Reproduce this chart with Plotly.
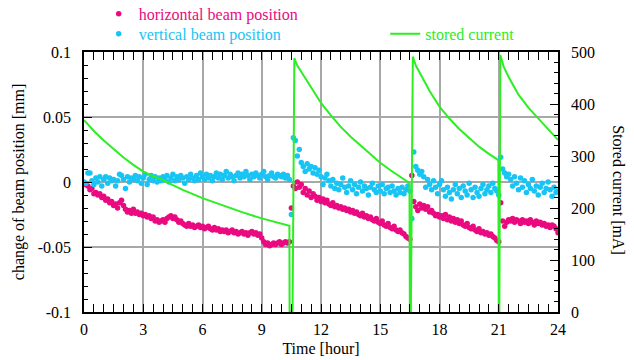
import plotly.graph_objects as go

# ---------------- data ----------------
# beam-position sample times [hour], segment by segment (between refills)
time_seg1 = [0.0, 0.1, 0.2, 0.3, 0.4, 0.5, 0.6, 0.7, 0.8, 0.9,
             1.0, 1.1, 1.2, 1.3, 1.4, 1.5, 1.6, 1.7, 1.8, 1.9,
             2.0, 2.1, 2.2, 2.3, 2.4, 2.5, 2.6, 2.7, 2.8, 2.9,
             3.0, 3.1, 3.2, 3.3, 3.4, 3.5, 3.6, 3.7, 3.8, 3.9,
             4.0, 4.1, 4.2, 4.3, 4.4, 4.5, 4.6, 4.7, 4.8, 4.9,
             5.0, 5.1, 5.2, 5.3, 5.4, 5.5, 5.6, 5.7, 5.8, 5.9,
             6.0, 6.1, 6.2, 6.3, 6.4, 6.5, 6.6, 6.7, 6.8, 6.9,
             7.0, 7.1, 7.2, 7.3, 7.4, 7.5, 7.6, 7.7, 7.8, 7.9,
             8.0, 8.1, 8.2, 8.3, 8.4, 8.5, 8.6, 8.7, 8.8, 8.9,
             9.0, 9.1, 9.2, 9.3, 9.4, 9.5, 9.6, 9.7, 9.8, 9.9,
             10.0, 10.1, 10.2, 10.3, 10.4]
time_seg2 = [10.5, 10.6, 10.7, 10.8, 10.9,
             11.0, 11.1, 11.2, 11.3, 11.4, 11.5, 11.6, 11.7, 11.8, 11.9,
             12.0, 12.1, 12.2, 12.3, 12.4, 12.5, 12.6, 12.7, 12.8, 12.9,
             13.0, 13.1, 13.2, 13.3, 13.4, 13.5, 13.6, 13.7, 13.8, 13.9,
             14.0, 14.1, 14.2, 14.3, 14.4, 14.5, 14.6, 14.7, 14.8, 14.9,
             15.0, 15.1, 15.2, 15.3, 15.4, 15.5, 15.6, 15.7, 15.8, 15.9,
             16.0, 16.1, 16.2, 16.3, 16.4, 16.5]
time_seg3 = [16.6, 16.7, 16.8, 16.9,
             17.0, 17.1, 17.2, 17.3, 17.4, 17.5, 17.6, 17.7, 17.8, 17.9,
             18.0, 18.1, 18.2, 18.3, 18.4, 18.5, 18.6, 18.7, 18.8, 18.9,
             19.0, 19.1, 19.2, 19.3, 19.4, 19.5, 19.6, 19.7, 19.8, 19.9,
             20.0, 20.1, 20.2, 20.3, 20.4, 20.5, 20.6, 20.7, 20.8, 20.9]
time_seg4 = [21.0, 21.1, 21.2, 21.3, 21.4, 21.5, 21.6, 21.7, 21.8, 21.9,
             22.0, 22.1, 22.2, 22.3, 22.4, 22.5, 22.6, 22.7, 22.8, 22.9,
             23.0, 23.1, 23.2, 23.3, 23.4, 23.5, 23.6, 23.7, 23.8, 23.9,
             24.0]

# change of horizontal beam position [mm]
horiz_seg1 = [-0.001, -0.002, -0.003, -0.006, -0.005, -0.009, -0.008, -0.010, -0.009, -0.012,
              -0.011, -0.014, -0.013, -0.016, -0.015, -0.018, -0.017, -0.020, -0.016, -0.014,
              -0.018, -0.021, -0.023, -0.022, -0.024, -0.021, -0.024, -0.023, -0.025, -0.024,
              -0.026, -0.025, -0.027, -0.026, -0.028, -0.027, -0.030, -0.029, -0.031, -0.030,
              -0.029, -0.031, -0.028, -0.027, -0.026, -0.028, -0.027, -0.029, -0.031, -0.030,
              -0.032, -0.033, -0.034, -0.032, -0.034, -0.033, -0.035, -0.034, -0.033, -0.035,
              -0.034, -0.036, -0.035, -0.034, -0.036, -0.037, -0.035, -0.037, -0.036, -0.038,
              -0.037, -0.038, -0.037, -0.039, -0.038, -0.037, -0.039, -0.038, -0.040, -0.039,
              -0.038, -0.040, -0.039, -0.041, -0.039, -0.038, -0.040, -0.039, -0.041, -0.040,
              -0.043, -0.046, -0.048, -0.047, -0.049, -0.048, -0.047, -0.048, -0.047, -0.046,
              -0.048, -0.047, -0.046, -0.047, -0.046]
horiz_seg2 = [-0.020, -0.003, -0.005, 0.000, -0.004,
              -0.002, -0.008, -0.005, -0.010, -0.007, -0.012, -0.009, -0.011, -0.014, -0.012,
              -0.015, -0.013, -0.016, -0.014, -0.017, -0.018, -0.016, -0.019, -0.018, -0.020,
              -0.019, -0.021, -0.020, -0.022, -0.021, -0.023, -0.022, -0.024, -0.023, -0.025,
              -0.026, -0.024, -0.027, -0.026, -0.028, -0.027, -0.029, -0.030, -0.028, -0.031,
              -0.032, -0.030, -0.033, -0.034, -0.032, -0.035, -0.036, -0.034, -0.037, -0.038,
              -0.037, -0.039, -0.040, -0.042, -0.043, -0.044]
horiz_seg3 = [0.005, -0.015, -0.019, -0.022,
              -0.017, -0.020, -0.018, -0.021, -0.019, -0.023, -0.022, -0.024, -0.026, -0.025,
              -0.027, -0.026, -0.028, -0.025, -0.029, -0.027, -0.030, -0.028, -0.031, -0.029,
              -0.032, -0.030, -0.033, -0.034, -0.032, -0.035, -0.036, -0.034, -0.037, -0.038,
              -0.036, -0.039, -0.038, -0.040, -0.039, -0.041, -0.040, -0.042, -0.043, -0.045]
horiz_seg4 = [-0.046, -0.016, -0.030, -0.034, -0.031, -0.029, -0.030, -0.028, -0.031, -0.029,
              -0.030, -0.032, -0.029, -0.031, -0.030, -0.032, -0.029, -0.031, -0.033, -0.030,
              -0.032, -0.031, -0.033, -0.032, -0.034, -0.033, -0.035, -0.033, -0.034, -0.036,
              -0.039]

# change of vertical beam position [mm]
vert_seg1 = [0.000, -0.001, 0.007, 0.007, 0.001, -0.002, 0.003, 0.000, 0.004, -0.003,
             0.002, 0.004, -0.001, 0.003, 0.001, 0.002, -0.003, 0.001, 0.006, 0.005,
             0.002, -0.005, 0.004, 0.000, 0.003, 0.002, 0.005, 0.001, 0.004, -0.001,
             0.003, 0.006, -0.002, 0.002, 0.005, 0.001, 0.004, 0.000, 0.003, 0.001,
             0.004, 0.002, 0.005, 0.000, 0.003, 0.006, 0.001, 0.004, 0.002, 0.005,
             0.003, -0.001, 0.004, 0.002, 0.006, 0.003, 0.001, 0.005, 0.002, 0.007,
             0.004, 0.002, 0.006, 0.003, 0.005, 0.001, 0.004, 0.007, 0.003, 0.006,
             0.002, 0.005, 0.008, 0.003, 0.006, 0.004, 0.001, 0.005, 0.007, 0.003,
             0.006, 0.004, 0.008, 0.005, 0.002, 0.006, 0.004, 0.007, 0.005, 0.003,
             0.006, 0.008, 0.004, 0.002, 0.005, 0.007, 0.004, 0.003, 0.006, 0.005,
             0.004, 0.006, 0.003, 0.005, 0.002]
vert_seg2 = [-0.025, 0.034, 0.032, 0.020, 0.025,
             0.015, 0.012, 0.008, 0.014, 0.010, 0.012, 0.007, 0.011, 0.006, 0.009,
             0.004, -0.002, 0.003, 0.006, 0.001, -0.003, 0.002, -0.005, -0.001, -0.006,
             -0.002, 0.003, -0.004, -0.008, -0.003, 0.001, -0.006, -0.002, -0.009, -0.004,
             0.000, -0.007, -0.003, -0.005, -0.010, -0.004, -0.001, -0.006, -0.008, -0.003,
             -0.007, -0.002, -0.009, -0.005, -0.004, -0.008, -0.003, -0.007, -0.010, -0.005,
             -0.008, -0.004, -0.009, -0.006, -0.003, -0.007]
vert_seg3 = [-0.028, 0.023, 0.012, 0.009,
             0.006, 0.008, 0.004, -0.004, 0.002, -0.002, -0.006, 0.001, -0.004, -0.009,
             -0.002, 0.001, -0.006, -0.011, -0.004, -0.008, -0.013, -0.006, -0.002, -0.009,
             -0.005, -0.012, -0.003, -0.007, -0.010, -0.001, -0.006, -0.012, -0.004, -0.008,
             -0.011, -0.005, -0.002, -0.009, -0.006, -0.003, -0.008, -0.001, -0.005, -0.007]
vert_seg4 = [-0.010, 0.019, 0.010, 0.007, 0.004, 0.006, 0.002, -0.003, 0.004, -0.001,
             -0.006, 0.003, -0.004, 0.001, -0.008, -0.002, -0.005, 0.002, -0.007, -0.003,
             -0.010, -0.004, -0.001, -0.008, -0.005, 0.000, -0.006, -0.011, -0.004, -0.008,
             -0.007]

# stored current [mA]
current_time = [0, 0.5, 1, 1.5, 2, 2.5, 3, 3.5, 4, 4.5, 5, 6, 7, 8, 9, 10,
                10.40, 10.41, 10.56, 10.65,
                10.8, 11, 11.5, 12, 12.5, 13, 13.5, 14, 14.5, 15, 15.5, 16,
                16.48, 16.50, 16.55, 16.65,
                16.8, 17, 17.5, 18, 18.5, 19, 19.5, 20, 20.5,
                20.98, 21.0, 21.03, 21.08,
                21.25, 21.5, 22, 22.5, 23, 23.5, 24]
current_mA = [369, 348, 330, 313, 297, 283, 270, 261, 254, 244, 235, 219, 205, 192, 180, 170,
              166, 0, 0, 488,
              474, 462, 432, 402, 378, 356, 337, 320, 303, 287, 273, 260,
              248, 0, 0, 491,
              474, 460, 425, 395, 372, 352, 335, 318, 304,
              292, 0, 0, 494,
              472, 452, 418, 393, 372, 351, 331]

x_ticks = [0, 3, 6, 9, 12, 15, 18, 21, 24]
y_ticks = [-0.1, -0.05, 0, 0.05, 0.1]
y_ticktext = ["-0.1", "-0.05", "0", "0.05", "0.1"]
y2_ticks = [0, 100, 200, 300, 400, 500]

time_h = time_seg1 + time_seg2 + time_seg3 + time_seg4
horizontal_mm = horiz_seg1 + horiz_seg2 + horiz_seg3 + horiz_seg4
vertical_mm = vert_seg1 + vert_seg2 + vert_seg3 + vert_seg4

# ---------------- style ----------------
MAGENTA = "#ea0a80"
CYAN = "#18c4f4"
GREEN = "#2cee22"
FONT = "Liberation Serif"
GRID = "#a8a8a8"

fig = go.Figure()
fig.add_trace(go.Scatter(x=time_h, y=horizontal_mm, mode="markers",
                         marker=dict(color=MAGENTA, size=5.5),
                         name="horizontal beam position", legend="legend",
                         showlegend=True))
fig.add_trace(go.Scatter(x=time_h, y=vertical_mm, mode="markers",
                         marker=dict(color=CYAN, size=5.5),
                         name="vertical beam position", legend="legend2",
                         showlegend=True))
fig.add_trace(go.Scatter(x=current_time, y=current_mA, mode="lines",
                         line=dict(color=GREEN, width=2),
                         name="stored current", yaxis="y2", legend="legend3",
                         showlegend=True))

common_tick = dict(ticks="inside", ticklen=8, tickwidth=1, tickcolor="black",
                   showline=True, linecolor="black", linewidth=1.5,
                   zeroline=False, tickfont=dict(family=FONT, size=16, color="black"))

fig.update_layout(
    width=634, height=360,
    showlegend=True,
    margin=dict(l=84, r=76, t=52, b=48, autoexpand=False),
    paper_bgcolor="white", plot_bgcolor="white",
    font=dict(family=FONT, size=16, color="black"),
    xaxis=dict(range=[0, 24], tickvals=x_ticks, mirror="allticks",
               showgrid=True, gridcolor=GRID, gridwidth=1.5,
               minor=dict(dtick=0.5, tick0=0, ticks="inside", ticklen=4,
                          tickcolor="black", showgrid=False),
               ticklabelstandoff=2,
               title=dict(text="Time [hour]", standoff=6,
                          font=dict(family=FONT, size=16)),
               **common_tick),
    yaxis=dict(range=[-0.1, 0.1], tickvals=y_ticks, ticktext=y_ticktext,
               showgrid=True, gridcolor=GRID, gridwidth=1.5,
               minor=dict(dtick=0.01, tick0=-0.1, ticks="inside", ticklen=4,
                          tickcolor="black", showgrid=False),
               ticklabelstandoff=8,
               title=dict(text="change of beam position [mm]", standoff=9,
                          font=dict(family=FONT, size=16)),
               **common_tick),
    yaxis2=dict(range=[0, 500], tickvals=y2_ticks, overlaying="y", side="right",
                showgrid=False,
                minor=dict(dtick=20, tick0=0, ticks="inside", ticklen=4,
                           tickcolor="black", showgrid=False),
                ticklabelstandoff=8,
                **common_tick),
    legend=dict(x=0.031, y=1.212, xanchor="left", yanchor="top", visible=True,
                bgcolor="rgba(0,0,0,0)", font=dict(family=FONT, size=16, color=MAGENTA)),
    legend2=dict(x=0.031, y=1.135, xanchor="left", yanchor="top", visible=True,
                 bgcolor="rgba(0,0,0,0)", font=dict(family=FONT, size=16, color=CYAN)),
    legend3=dict(x=0.6355, y=1.135, xanchor="left", yanchor="top", visible=True,
                 bgcolor="rgba(0,0,0,0)", font=dict(family=FONT, size=16, color=GREEN)),
    annotations=[dict(text="Stored current [mA]", textangle=90,
                      xref="paper", yref="paper", x=1.15, y=0.47,
                      showarrow=False, font=dict(family=FONT, size=16, color="black"))],
)

fig.write_html("out.html", config={"displayModeBar": False},
               post_script="document.body.style.margin='0px';document.body.style.padding='0px';")
